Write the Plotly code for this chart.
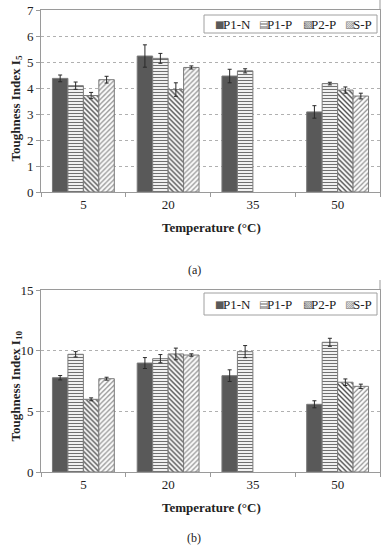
import plotly.graph_objects as go

# ---------------- data ----------------
temps = ["5", "20", "35", "50"]
series = ["P1-N", "P1-P", "P2-P", "S-P"]

i5_p1n = [4.37, 5.23, 4.46, 3.08]
i5_p1p = [4.09, 5.14, 4.66, 4.17]
i5_p2p = [3.71, 3.94, None, 3.92]
i5_sp = [4.32, 4.79, None, 3.69]
i5_p1n_err = [0.13, 0.43, 0.26, 0.24]
i5_p1p_err = [0.14, 0.19, 0.08, 0.05]
i5_p2p_err = [0.12, 0.26, 0, 0.12]
i5_sp_err = [0.13, 0.06, 0, 0.11]

i10_p1n = [7.77, 8.98, 7.94, 5.58]
i10_p1p = [9.70, 9.34, 9.92, 10.69]
i10_p2p = [5.99, 9.73, None, 7.40]
i10_sp = [7.69, 9.64, None, 7.06]
i10_p1n_err = [0.18, 0.45, 0.48, 0.29]
i10_p1p_err = [0.22, 0.34, 0.50, 0.33]
i10_p2p_err = [0.12, 0.48, 0, 0.27]
i10_sp_err = [0.12, 0.10, 0, 0.18]

y1_ticks = [0, 1, 2, 3, 4, 5, 6, 7]
y2_ticks = [0, 5, 10, 15]

# ---------------- styling ----------------
W, H = 387, 550
FONT = "Liberation Serif"
AX = "#9a9a9a"
OUTLINE = "#7a7a7a"

styles = {
    "P1-N": dict(color="#595959", pattern=None),
    "P1-P": dict(color="white", pattern=dict(shape="-", fgcolor="#707070", bgcolor="white", size=3, solidity=0.4)),
    "P2-P": dict(color="white", pattern=dict(shape="\\", fgcolor="#4a4a4a", bgcolor="white", size=3.5, solidity=0.4)),
    "S-P": dict(color="white", pattern=dict(shape="/", fgcolor="#8a8a8a", bgcolor="white", size=3.5, solidity=0.35)),
}


def px_x(p):
    return p / W


def px_y(p):
    return 1 - p / H


fig = go.Figure()

top_sets = [i5_p1n, i5_p1p, i5_p2p, i5_sp]
top_errs = [i5_p1n_err, i5_p1p_err, i5_p2p_err, i5_sp_err]
bot_sets = [i10_p1n, i10_p1p, i10_p2p, i10_sp]
bot_errs = [i10_p1n_err, i10_p1p_err, i10_p2p_err, i10_sp_err]

for axis_id, sets, errs in (("", top_sets, top_errs), ("2", bot_sets, bot_errs)):
    for name, vals, err in zip(series, sets, errs):
        st = styles[name]
        marker = dict(color=st["color"], line=dict(color=OUTLINE, width=1))
        if st["pattern"]:
            marker["pattern"] = st["pattern"]
        fig.add_trace(go.Bar(
            x=temps, y=vals, name=name, marker=marker,
            error_y=dict(type="data", array=err, visible=True, color="#2a2a2a", thickness=1, width=2),
            xaxis="x" + axis_id, yaxis="y" + axis_id, showlegend=False,
        ))

xdom = [px_x(41), px_x(380)]
common_x = dict(
    type="category", categoryorder="array", categoryarray=temps,
    domain=xdom, showline=True, linecolor=AX, linewidth=1, mirror=True,
    ticks="outside", tickson="boundaries", ticklen=4, tickcolor=AX,
    showgrid=False, automargin=False, zeroline=False, ticklabeloverflow="allow",
    tickfont=dict(family=FONT, size=13, color="#222"),
)
common_y = dict(
    showline=True, linecolor=AX, linewidth=1, mirror=True,
    ticks="outside", ticklen=4, tickcolor=AX, automargin=False,
    showgrid=True, gridcolor="#b0b0b0", griddash="dot", gridwidth=1,
    zeroline=False, ticklabeloverflow="allow",
    tickfont=dict(family=FONT, size=13, color="#222"),
)

fig.update_layout(
    template="none",
    width=W, height=H, margin=dict(l=0, r=0, t=0, b=0, autoexpand=False),
    paper_bgcolor="white", plot_bgcolor="white",
    barmode="group", bargap=0.27, bargroupgap=0,
    showlegend=False,
    xaxis=dict(**common_x, anchor="y"),
    yaxis=dict(**common_y, anchor="x", domain=[px_y(192), px_y(10)], range=[0, 7], tickvals=y1_ticks),
    xaxis2=dict(**common_x, anchor="y2"),
    yaxis2=dict(**common_y, anchor="x2", domain=[px_y(472), px_y(290)], range=[0, 15], tickvals=y2_ticks),
)

ann = []
shapes = []
title_font = dict(family=FONT, size=13, color="#222")
for ytitle, ycen, xt_y, cap_y, cap in (
    ("Toughness Index I<sub>5</sub>", 109, 227, 270, "(a)"),
    ("Toughness Index I<sub>10</sub>", 386, 507, 538, "(b)"),
):
    ann.append(dict(text="<b>" + ytitle + "</b>", x=px_x(15.5), y=px_y(ycen), xref="paper", yref="paper",
                    textangle=-90, showarrow=False, font=title_font, xanchor="center", yanchor="middle"))
    ann.append(dict(text="<b>Temperature (°C)</b>", x=px_x(211), y=px_y(xt_y), xref="paper", yref="paper",
                    showarrow=False, font=title_font, xanchor="center", yanchor="middle"))
    ann.append(dict(text=cap, x=px_x(194), y=px_y(cap_y), xref="paper", yref="paper",
                    showarrow=False, font=dict(family=FONT, size=12, color="#222"), xanchor="center", yanchor="middle"))

# legends (custom compact legend boxes)
sym = {"P1-N": ("■", "#595959"), "P1-P": ("▤", "#707070"), "P2-P": ("▧", "#555555"), "S-P": ("▨", "#808080")}
leg_x = [213, 257, 301, 343]
for box_top, box_bot, text_y in ((15, 33, 24.5), (293, 315, 304)):
    shapes.append(dict(type="rect", xref="paper", yref="paper", x0=px_x(204), x1=px_x(377),
                       y0=px_y(box_bot), y1=px_y(box_top), line=dict(color="#a0a0a0", width=1), fillcolor="white"))
    for name, lx in zip(series, leg_x):
        ch, col = sym[name]
        ann.append(dict(
            text=ch, x=px_x(lx), y=px_y(text_y + 0.5), xref="paper", yref="paper", showarrow=False,
            xanchor="left", yanchor="middle", font=dict(family="DejaVu Sans", size=10, color=col)))
        ann.append(dict(
            text=name, x=px_x(lx + 8), y=px_y(text_y), xref="paper", yref="paper", showarrow=False,
            xanchor="left", yanchor="middle", font=dict(family=FONT, size=13, color="#222")))

# right border extension of chart frames
shapes.append(dict(type="line", xref="paper", yref="paper", x0=px_x(380), x1=px_x(380), y0=px_y(10), y1=1,
                   line=dict(color=AX, width=1)))
shapes.append(dict(type="line", xref="paper", yref="paper", x0=px_x(380), x1=px_x(380), y0=px_y(290), y1=px_y(280),
                   line=dict(color=AX, width=1)))

fig.update_layout(annotations=ann, shapes=shapes)
fig.write_html("out.html", config={"displayModeBar": False},
               post_script="document.body.style.margin='0px';")
